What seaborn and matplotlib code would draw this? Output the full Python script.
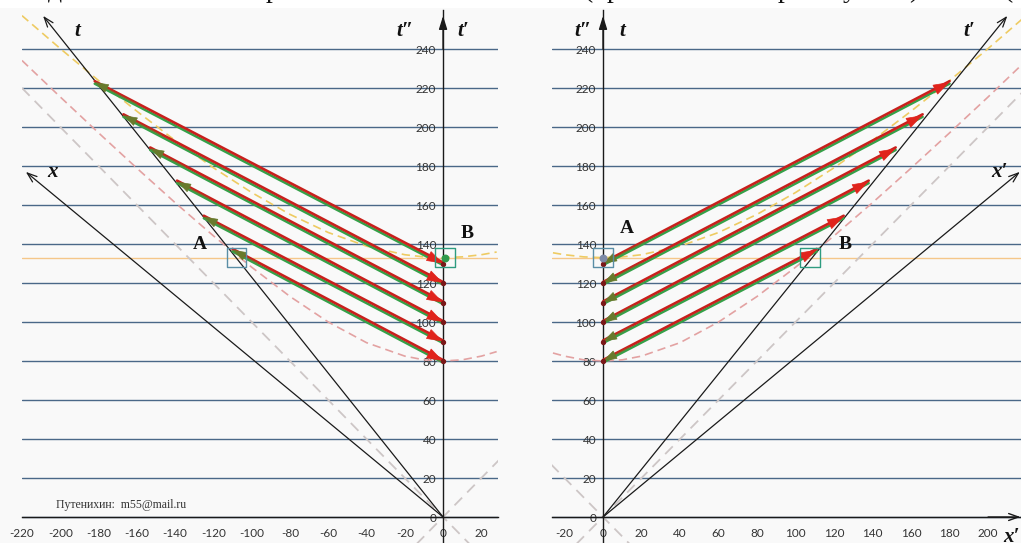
import matplotlib
matplotlib.use('Agg')
import matplotlib.pyplot as plt
import seaborn as sns
from matplotlib.patches import Rectangle

# --- данные ---
# концы световых сигналов на оси t'' (x = 0)
t_axis_ends = [130, 120, 110, 100, 90, 80]
# точки на наклонной оси t (левая панель)
left_start_x = [-182, -167, -153, -139, -125, -110]
left_start_t = [223, 206, 189, 172, 154, 137]
# точки на наклонной оси t' (правая панель)
right_end_x = [180, 166, 152, 138, 125, 111]
right_end_t = [223, 206, 189, 172, 154, 137]

# концы стрелок осей
left_t_tip = (-209, 257)
left_x_tip = (-218, 177)
right_t_tip = (210, 257)
right_x_tip = (216.5, 177)

# гиперболы (пунктир) и световой конус
hyp_x_left = [-220, -200, -180, -160, -140, -120, -100, -80, -60, -40, -20, -10, 0, 10, 20, 28]
hyp133_left = [257.1, 240.2, 223.8, 208.1, 193.1, 179.1, 166.4, 155.2, 145.9, 138.9, 134.5, 133.4, 133, 133.4, 134.5, 135.9]
hyp80_left = [234.1, 215.4, 197.0, 178.9, 161.2, 144.2, 128.1, 113.1, 100.0, 89.4, 82.5, 80.6, 80, 80.6, 82.5, 84.8]
hyp_x_right = [-26, -20, -10, 0, 10, 20, 40, 60, 80, 100, 120, 140, 160, 180, 200, 218]
hyp133_right = [135.5, 134.5, 133.4, 133, 133.4, 134.5, 138.9, 145.9, 155.2, 166.4, 179.1, 193.1, 208.1, 223.8, 240.2, 255.6]
hyp80_right = [84.1, 82.5, 80.6, 80, 80.6, 82.5, 89.4, 100.0, 113.1, 128.1, 144.2, 161.2, 178.9, 197.0, 215.4, 232.4]
cone_left_a = ([-220, 14], [220, -14])
cone_left_b = ([-14, 29], [-14, 29])
cone_right_a = ([-14, 218], [-14, 218])
cone_right_b = ([-27, 14], [27, -14])
t_event = 133  # горизонталь одновременности (оранжевая)

A_left, B_left = (-108, 133), (1, 133)
A_right, B_right = (0, 133), (107.5, 133)

sns.set_theme(style='white')
plt.rcParams['font.family'] = ['Lato', 'DejaVu Sans']
plt.rcParams['axes.unicode_minus'] = False
serif = ['Liberation Serif', 'DejaVu Serif']

RED = '#e0241c'
GREEN = '#35a048'
OLIVE = '#687a2c'
GRID = '#4a6888'

fig = plt.figure(figsize=(10.21, 5.43), dpi=100, facecolor='#f9f9f9')
fig.patches.append(Rectangle((0, 1 - 8 / 543), 1, 8 / 543, transform=fig.transFigure,
                             facecolor='white', edgecolor='none', zorder=0))

axL = fig.add_axes([22 / 1021, 0, 476 / 1021, 533 / 543])
axR = fig.add_axes([552 / 1021, 0, 469 / 1021, 533 / 543])
axL.set_xlim(-220, 28.7)
axR.set_xlim(-26.5, 217.1)


def setup(ax, xticks):
    ax.set_facecolor('none')
    ax.set_ylim(-13.33, 260)
    for s in ['top', 'right']:
        ax.spines[s].set_visible(False)
    ax.spines['left'].set_position(('data', 0))
    ax.spines['bottom'].set_position(('data', 0))
    for s in ['left', 'bottom']:
        ax.spines[s].set_color('#1a1a1a')
        ax.spines[s].set_linewidth(1.0)
    ax.set_xticks(xticks)
    ax.set_yticks(range(0, 241, 20))
    ax.tick_params(axis='x', direction='inout', length=6, width=1, color='#222',
                   labelsize=8.5, labelcolor='#333', pad=5)
    ax.tick_params(axis='y', direction='out', length=3, width=1, color='#222',
                   labelsize=8.5, labelcolor='#333', pad=2)
    ax.yaxis.grid(True, color=GRID, lw=1)
    ax.set_axisbelow(True)
    ax.axhline(t_event, color='#f5c78a', lw=1, zorder=1)
    # вертикальная ось со стрелкой
    ax.annotate('', xy=(0, 257), xytext=(0, 240),
                arrowprops=dict(arrowstyle='-|>,head_length=0.8,head_width=0.25',
                                color='#1a1a1a', lw=1, mutation_scale=10, shrinkA=0, shrinkB=0))


setup(axL, range(-220, 21, 20))
setup(axR, range(-20, 201, 20))


def dashed(ax, xs, ys, color, dash, lw=1.2):
    sns.lineplot(x=xs, y=ys, ax=ax, color=color, lw=lw, sort=False, estimator=None,
                 linestyle=(0, dash), zorder=2)


for ax, hx, h133, h80, ca, cb in [(axL, hyp_x_left, hyp133_left, hyp80_left, cone_left_a, cone_left_b),
                                  (axR, hyp_x_right, hyp133_right, hyp80_right, cone_right_a, cone_right_b)]:
    dashed(ax, ca[0], ca[1], '#cdc6c6', (6, 4), 1.3)
    dashed(ax, cb[0], cb[1], '#cdc6c6', (6, 4), 1.3)
    dashed(ax, hx, h80, '#e3a2a2', (5, 3))
    dashed(ax, hx, h133, '#eecb62', (5, 3))


def axis_arrow(ax, tip):
    ax.annotate('', xy=tip, xytext=(0, 0),
                arrowprops=dict(arrowstyle='->,head_length=0.7,head_width=0.25', color='#1a1a1a',
                                lw=0.9, mutation_scale=10, shrinkA=0, shrinkB=0), zorder=3)


axis_arrow(axL, left_t_tip)
axis_arrow(axL, left_x_tip)
axis_arrow(axR, right_t_tip)
axis_arrow(axR, right_x_tip)
axR.annotate('', xy=(216.8, 0), xytext=(200, 0),
             arrowprops=dict(arrowstyle='->,head_length=0.7,head_width=0.25', color='#1a1a1a',
                             lw=1, mutation_scale=10, shrinkA=0, shrinkB=0))


def head(ax, tip, frm, color, scale):
    back = (tip[0] + 0.12 * (frm[0] - tip[0]), tip[1] + 0.12 * (frm[1] - tip[1]))
    ax.annotate('', xy=tip, xytext=back,
                arrowprops=dict(arrowstyle='-|>,head_length=0.9,head_width=0.3', color=color,
                                lw=0.5, mutation_scale=scale, shrinkA=0, shrinkB=0), zorder=6)


def signal(ax, p_left, p_right):
    ax.plot([p_left[0], p_right[0]], [p_left[1] - 0.8, p_right[1] - 0.8], color=GREEN, lw=1.8, zorder=4)
    ax.plot([p_left[0], p_right[0]], [p_left[1] + 0.5, p_right[1] + 0.5], color='#c8201c', lw=1.9, zorder=5)
    head(ax, p_right, p_left, RED, 12)
    head(ax, p_left, p_right, OLIVE, 10)


for sx, st, te in zip(left_start_x, left_start_t, t_axis_ends):
    signal(axL, (sx, st), (0, te))
for ex, et, te in zip(right_end_x, right_end_t, t_axis_ends):
    signal(axR, (0, te), (ex, et))

axL.scatter([0] * len(t_axis_ends), t_axis_ends, s=8, color='#7a1818', zorder=7)
axR.scatter([0] * len(t_axis_ends), t_axis_ends, s=8, color='#7a1818', zorder=7)

# события A и B
axL.scatter(*A_left, marker='s', s=200, facecolors='none', edgecolors='#5a8ea6', lw=1, zorder=8)
axL.scatter(*B_left, marker='s', s=200, facecolors='none', edgecolors='#2e9c80', lw=1, zorder=8)
axL.scatter(*B_left, s=22, color='#2f9a4c', zorder=9)
axR.scatter(*A_right, marker='s', s=200, facecolors='none', edgecolors='#5a8ea6', lw=1, zorder=8)
axR.scatter(*B_right, marker='s', s=200, facecolors='none', edgecolors='#2e9c80', lw=1, zorder=8)
axR.scatter(*A_right, s=22, color='#7d8aa8', zorder=9)

lab = dict(family=serif, fontweight='bold', fontsize=14, color='#111', ha='center', va='center')
ital = dict(family=serif, fontweight='bold', fontstyle='italic', fontsize=15, color='#111',
            ha='center', va='center')
axL.text(-127, 139.5, 'A', **lab)
axL.text(12.5, 145.6, 'B', **lab)
axR.text(12.5, 148, 'A', **lab)
axR.text(125.7, 139.5, 'B', **lab)
axL.text(-191, 249, 't', **ital)
axL.text(-204, 177, 'x', **ital)
axL.text(-20, 249, 't\u2033', **ital)
axL.text(10.4, 249, 't\u2032', **ital)
axR.text(-10.4, 249, 't\u2033', **ital)
axR.text(10, 249, 't', **ital)
axR.text(190, 249, 't\u2032', **ital)
axR.text(206, 177, 'x\u2032', **ital)
axR.text(212, -10, 'x\u2032', **ital)

axL.text(-168, 6, 'Путенихин:  m55@mail.ru', family=serif, fontsize=8.5, color='#333',
         ha='center', va='center')

# обрезанная строка текста над рисунком
for ch, px in [('д', 55), ('р', 273), ('(', 588), ('р', 614), ('р', 785), ('у', 850), (')', 914), ('(', 1008)]:
    fig.text(px / 1021, 1 + 3 / 543, ch, family=serif, fontsize=20, color='#111',
             ha='center', va='baseline')

fig.savefig('out.png', dpi=100, facecolor=fig.get_facecolor())
